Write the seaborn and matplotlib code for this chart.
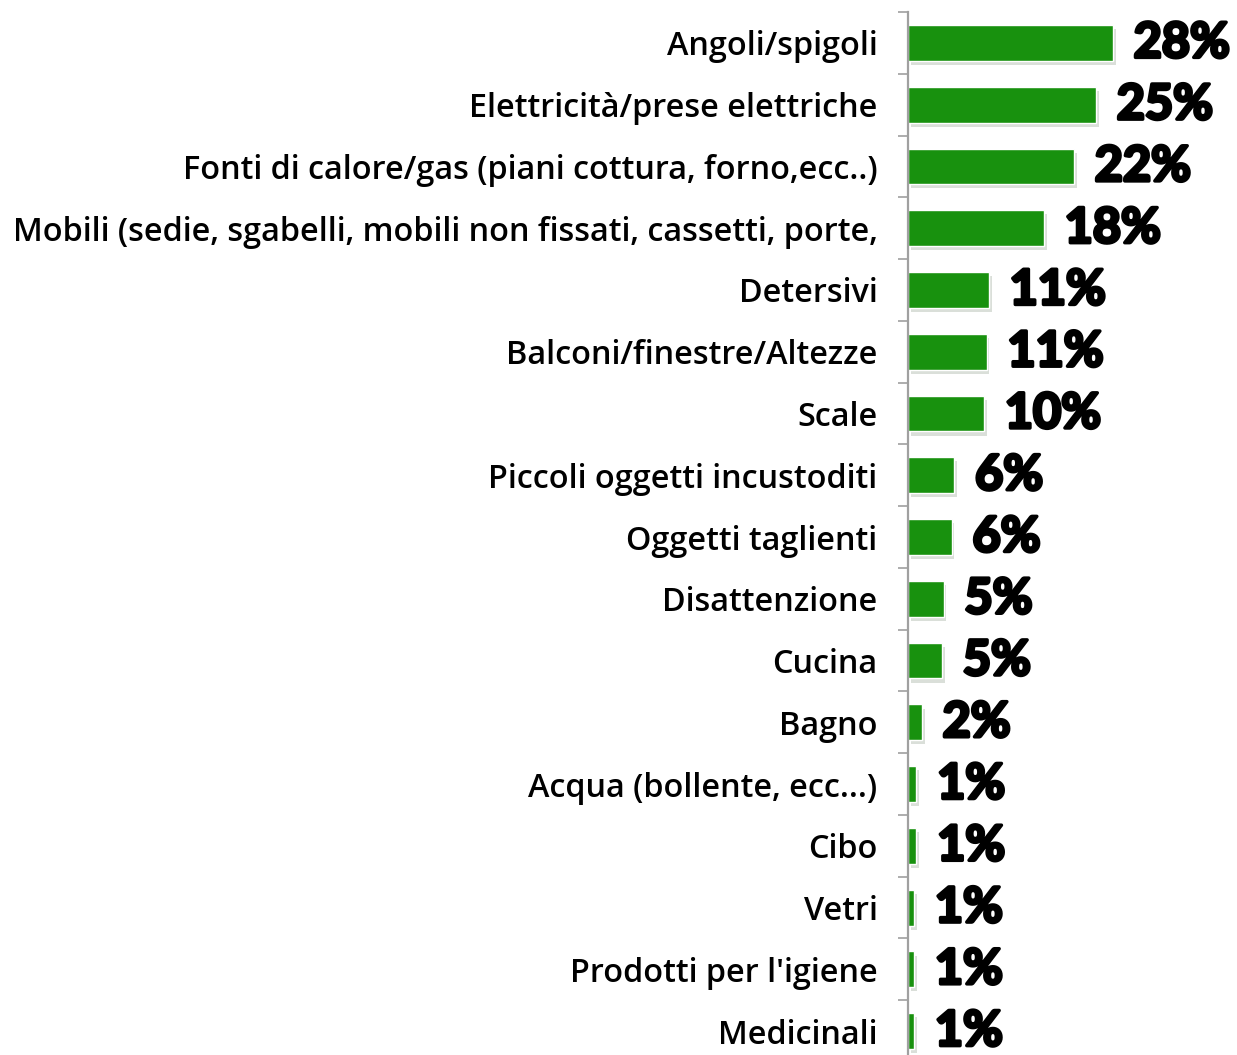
import matplotlib
matplotlib.use("Agg")
import matplotlib.pyplot as plt
import matplotlib.patheffects as pe
from matplotlib.ticker import FixedLocator
import seaborn as sns

# categories, top to bottom
categories = [
    "Angoli/spigoli",
    "Elettricità/prese elettriche",
    "Fonti di calore/gas (piani cottura, forno,ecc..)",
    "Mobili (sedie, sgabelli, mobili non fissati, cassetti, porte,",
    "Detersivi",
    "Balconi/finestre/Altezze",
    "Scale",
    "Piccoli oggetti incustoditi",
    "Oggetti taglienti",
    "Disattenzione",
    "Cucina",
    "Bagno",
    "Acqua (bollente, ecc...)",
    "Cibo",
    "Vetri",
    "Prodotti per l'igiene",
    "Medicinali",
]
# shares in %
values = [27.9, 25.6, 22.6, 18.5, 11.0, 10.7, 10.35, 6.3, 5.95, 4.86, 4.63,
          1.87, 1.13, 1.13, 0.82, 0.82, 0.82]
# printed labels
value_labels = ["28%", "25%", "22%", "18%", "11%", "11%", "10%", "6%", "6%",
                "5%", "5%", "2%", "1%", "1%", "1%", "1%", "1%"]

sns.set_theme(style="white")
plt.rcParams["font.family"] = ["Open Sans", "DejaVu Sans"]

fig = plt.figure(figsize=(12.37, 10.55), dpi=100)
ax = fig.add_axes([908 / 1237, -7 / 1055, 293.6 / 1237, 1050 / 1055])

sns.barplot(x=values, y=categories, orient="h", color="#18910e",
            width=0.58, saturation=1, ax=ax)

# soft drop shadow under bars
for p in ax.patches:
    p.set_path_effects([pe.SimplePatchShadow(offset=(2, -3), alpha=0.15),
                        pe.Normal()])

txts = ax.bar_label(ax.containers[0], labels=value_labels, padding=15,
                    fontsize=35, fontweight="bold", color="black",
                    family=["Lato", "DejaVu Sans"])
for t in txts:
    t.set_path_effects([pe.withStroke(linewidth=2.5, foreground="black")])

ax.set_xlim(0, 40)
ax.set_ylim(len(categories) - 0.5, -0.5)
ax.set_xlabel("")
ax.set_ylabel("")
ax.set_xticks([])

# category labels, ticks between the bars
ax.tick_params(axis="y", which="major", length=0, pad=22,
               labelsize=23.3, labelcolor="black")
for t in ax.get_yticklabels():
    t.set_fontweight("semibold")
ax.yaxis.set_minor_locator(FixedLocator([i - 0.5 for i in range(len(categories) + 1)]))
ax.tick_params(axis="y", which="minor", left=True, length=7.5, width=1.2,
               color="#a0a0a0")

for s in ["top", "right", "bottom"]:
    ax.spines[s].set_visible(False)
ax.spines["left"].set_color("#a0a0a0")
ax.spines["left"].set_linewidth(1.6)

fig.savefig("out.png", dpi=100)
